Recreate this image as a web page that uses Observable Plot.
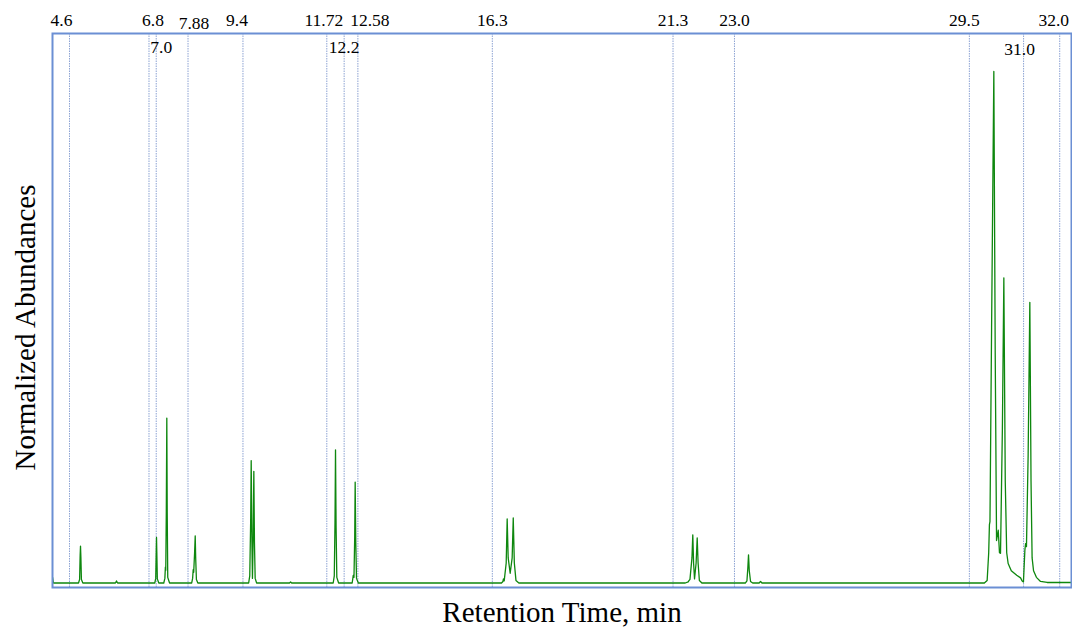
<!DOCTYPE html>
<html>
<head>
<meta charset="utf-8">
<script src="https://cdn.jsdelivr.net/npm/d3@7"></script>
<script src="https://cdn.jsdelivr.net/npm/@observablehq/plot@0.6"></script>
<style>
  html, body { margin: 0; padding: 0; background: #fff; }
  #chart svg { display: block; }
</style>
</head>
<body>
<div id="chart"></div>
<script>
// Time markers along the top edge (min)
const markerTimes = [4.6, 6.8, 7.0, 7.88, 9.4, 11.72, 12.2, 12.58, 16.3, 21.3, 23.0, 29.5, 31.0, 32.0];
const markerLabels = ["4.6", "6.8", "7.0", "7.88", "9.4", "11.72", "12.2", "12.58", "16.3", "21.3", "23.0", "29.5", "31.0", "32.0"];

// Chromatogram trace: [retention time (min), normalized abundance (%)]
const trace = [
  [4.132, 1.2], [4.157, 0.1],
  [4.85, 0.1], [4.88, 0.8], [4.895, 5.5], [4.905, 7.3], [4.915, 5.2], [4.93, 0.8], [4.97, 0.1],
  [5.871, 0.1], [5.901, 0.5], [5.931, 0.1],
  [6.961, 0.1], [6.986, 1.0], [7.001, 6.5], [7.008, 9.0], [7.016, 6.2], [7.031, 0.9], [7.071, 0.1],
  [7.209, 0.1], [7.239, 1.0], [7.254, 3.2], [7.264, 2.6], [7.279, 14], [7.293, 32.3], [7.304, 14], [7.319, 1.2], [7.369, 0.1],
  [7.982, 0.1], [8.007, 1.0], [8.023, 2.7], [8.037, 2.2], [8.062, 6], [8.079, 9.3], [8.092, 5], [8.112, 0.8], [8.152, 0.1],
  [9.558, 0.1], [9.588, 1.5], [9.613, 12], [9.628, 24.0], [9.648, 8], [9.663, 1.0], [9.683, 9], [9.701, 21.9], [9.718, 8], [9.738, 1.0], [9.778, 0.1],
  [10.688, 0.1], [10.718, 0.3], [10.748, 0.1],
  [11.897, 0.1], [11.927, 1.5], [11.947, 12], [11.961, 26.1], [11.977, 11], [11.997, 1.2], [12.047, 0.1],
  [12.422, 0.1], [12.452, 1.6], [12.472, 1.2], [12.492, 9], [12.505, 19.8], [12.522, 8], [12.542, 1.0], [12.592, 0.1],
  [16.554, 0.1], [16.594, 0.4], [16.608, 0.9], [16.629, 0.5], [16.684, 4], [16.711, 12.6], [16.739, 5], [16.794, 2.0],
  [16.849, 5], [16.879, 12.8], [16.909, 4], [16.954, 0.6], [17.034, 0.1],
  [21.639, 0.1], [21.719, 0.3], [21.736, 0.5], [21.769, 0.8], [21.824, 5], [21.847, 9.5], [21.869, 4], [21.895, 0.9],
  [21.939, 4], [21.969, 8.9], [21.994, 4], [22.029, 0.6], [22.099, 0.1],
  [23.305, 0.1], [23.345, 0.5], [23.37, 3], [23.389, 5.6], [23.41, 2.5], [23.445, 0.4], [23.505, 0.1],
  [23.682, 0.1], [23.722, 0.4], [23.762, 0.1],
  [29.915, 0.1], [29.992, 0.6], [30.035, 6], [30.055, 11.5], [30.07, 12.1], [30.115, 50], [30.177, 100], [30.215, 45],
  [30.252, 8.4], [30.299, 10.4], [30.333, 6], [30.362, 5.9], [30.413, 30], [30.454, 59.7], [30.493, 20], [30.533, 6],
  [30.573, 3.9], [30.66, 2.5], [30.81, 1.6], [30.917, 1.1], [30.96, 0.5],
  [30.996, 0.3], [31.036, 6.5], [31.056, 7.8], [31.08, 7.2], [31.126, 25], [31.173, 54.9], [31.206, 20], [31.236, 5],
  [31.276, 2.5], [31.355, 1.2], [31.469, 0.4], [31.652, 0.2], [32.326, 0.2]
];

// Labels that would collide with a neighbour sit just inside the frame
const insideRow = new Set(["7.0", "12.2", "31.0"]);
// Small horizontal / vertical label offsets (px) to keep crowded labels readable
const shiftX = {"4.6": -8, "6.8": 4, "7.0": 5, "7.88": 6, "9.4": -6, "11.72": -3, "12.58": 12, "29.5": -5, "31.0": -4, "32.0": -6};
const shiftY = {"7.88": 3, "31.0": 2};

const markers = markerTimes.map((t, i) => ({t, label: markerLabels[i]}));
const topRow = markers.filter(d => !insideRow.has(d.label));
const lowRow = markers.filter(d => insideRow.has(d.label));
const points = trace.map(([t, a]) => ({t, a}));

const serif = "'Liberation Serif', 'Times New Roman', Times, serif";

const chart = Plot.plot({
  width: 1072,
  height: 629,
  marginTop: 33,
  marginBottom: 42,
  marginLeft: 52,
  marginRight: 1,
  x: {domain: [4.13, 32.326], axis: null},
  y: {domain: [-0.78, 107.4], axis: null},
  style: {fontFamily: serif, background: "white", color: "#000"},
  marks: [
    Plot.ruleX(markers, {x: "t", stroke: "#8da3d3", strokeWidth: 1, strokeDasharray: "1.5,1"}),
    Plot.line(points, {x: "t", y: "a", stroke: "#0e870e", strokeWidth: 1.3, clip: true}),
    Plot.frame({stroke: "#6b8fd4", strokeWidth: 2}),
    Plot.text(topRow, {
      x: "t", text: "label", frameAnchor: "top", lineAnchor: "bottom",
      fontSize: 17.5, fontFamily: serif, fill: "#000"
    }),
    Plot.text(lowRow, {
      x: "t", text: "label", frameAnchor: "top", lineAnchor: "bottom",
      fontSize: 17.5, fontFamily: serif, fill: "#000"
    }),
    Plot.text(["Normalized Abundances"], {
      frameAnchor: "left", textAnchor: "middle", lineAnchor: "middle", rotate: -90,
      dx: -27, dy: 17, fontSize: 29, fontFamily: serif, fill: "#000"
    }),
    Plot.text(["Retention Time, min"], {
      frameAnchor: "bottom", lineAnchor: "middle", dy: 25,
      fontSize: 29, fontFamily: serif, fill: "#000"
    })
  ]
});

// Place the two rows of marker labels: above the frame and just inside it
const rows = chart.querySelectorAll("g[aria-label='text']");
function placeRow(g, rowData, base) {
  g.querySelectorAll("text").forEach((el, i) => {
    const lab = rowData[i].label;
    const ox = shiftX[lab] || 0;
    const oy = base + (shiftY[lab] || 0);
    el.setAttribute("dy", "0");
    const tr = el.getAttribute("transform") || "";
    el.setAttribute("transform", tr + ` translate(${ox},${oy})`);
  });
}
placeRow(rows[0], topRow, -8);
placeRow(rows[1], lowRow, 19.5);

document.getElementById("chart").appendChild(chart);
</script>
</body>
</html>
